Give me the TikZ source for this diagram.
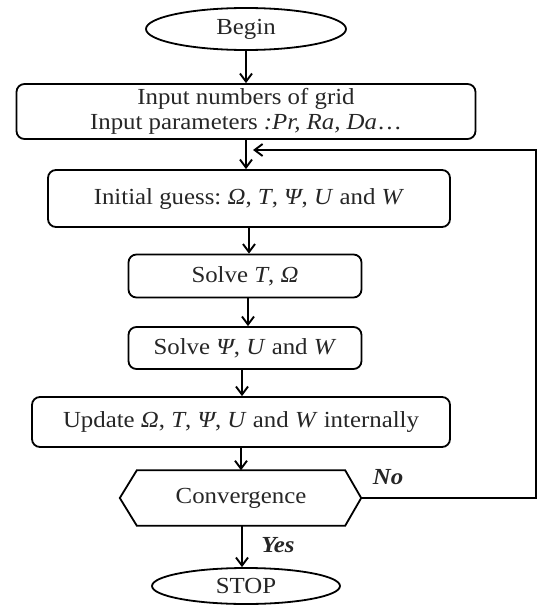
\documentclass[tikz,border=0pt]{standalone}
\usepackage{fontspec}
\setmainfont{Liberation Serif}[FakeStretch=1.08]
\usetikzlibrary{shapes.geometric,arrows.meta}
\begin{document}
\begin{tikzpicture}[x=1pt,y=-1pt,
  every node/.style={font=\fontsize{23}{25}\selectfont, inner sep=0pt, align=center, text=black!85},
  box/.style={draw, line width=1.8pt, rounded corners=8pt},
  term/.style={draw, line width=1.8pt, ellipse},
  arr/.style={line width=1.9pt, -{Straight Barb[length=8pt,width=12pt]}},
  lbl/.style={font=\fontsize{23}{25}\selectfont\bfseries\itshape}]
\useasboundingbox (0,0) rectangle (539,605);

% terminals and process boxes
\node[term, minimum width=200pt, minimum height=42pt] (begin) at (246,29) {Begin};
\node[box, minimum width=459pt, minimum height=55pt] (input) at (246,111.5)
  {Input numbers of grid\\Input parameters \textit{:Pr, Ra, Da}…};
\node[box, minimum width=402pt, minimum height=57pt] (init) at (249,198.5)
  {Initial guess:\ \textit{Ω}, \textit{T},\ \textit{Ψ}, \textit{U} and \textit{W}};
\node[box, minimum width=233pt, minimum height=43pt] (solveT) at (245,276)
  {Solve \textit{T}, \textit{Ω}};
\node[box, minimum width=233pt, minimum height=42pt] (solvePsi) at (245,348)
  {Solve \textit{Ψ}, \textit{U} and \textit{W}};
\node[box, minimum width=418pt, minimum height=50pt] (update) at (241,422)
  {Update \textit{Ω}, \textit{T},\ \textit{Ψ}, \textit{U} and \textit{W} internally};

% decision: hexagon drawn around a text node
\node[minimum width=208pt, minimum height=55pt] (conv) at (241,498) {Convergence};
\coordinate (convL) at ([xshift=-17pt]conv.west);
\coordinate (convR) at ([xshift=16pt]conv.east);
\draw[line width=1.8pt, line join=miter] (conv.north west) -- (conv.north east) -- (convR)
  -- (conv.south east) -- (conv.south west) -- (convL) -- cycle;

\node[term, minimum width=188pt, minimum height=36pt] (stop) at (246,586) {STOP};

% main flow
\draw[arr] (begin.south) -- (begin.south |- input.north);
\draw[arr] (input.south) -- (input.south |- init.north);
\draw[arr] (init.south) -- (init.south |- solveT.north);
\draw[arr] ([xshift=3pt]solveT.south) -- ([xshift=3pt]solveT.south |- solvePsi.north);
\draw[arr] ([xshift=-3pt]solvePsi.south) -- ([xshift=-3pt]solvePsi.south |- update.north);
\draw[arr] (update.south) -- (update.south |- conv.north);
\draw[arr] ([xshift=1pt]conv.south) -- ([xshift=1pt]conv.south |- stop.north);

% feedback loop
\coordinate (loopC) at (536,150);
\coordinate (loopEnd) at (253,150);
\draw[arr] (convR) -| (loopC) -- (loopEnd);

% branch labels
\node[lbl] (no) at (388,477) {No};
\node[lbl] (yes) at (278,545) {Yes};
\end{tikzpicture}
\end{document}
